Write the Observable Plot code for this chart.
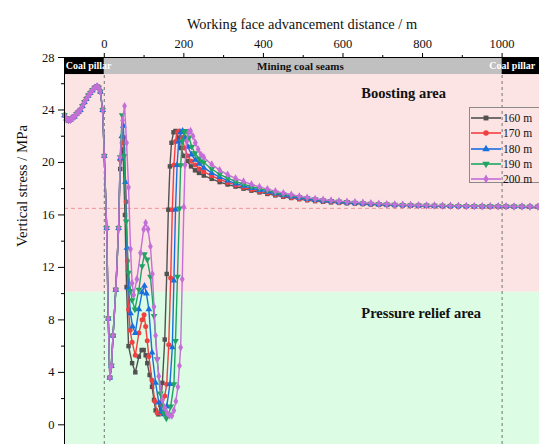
<!DOCTYPE html>
<html>
<head>
<meta charset="utf-8">
<script src="https://cdn.jsdelivr.net/npm/d3@7"></script>
<script src="https://cdn.jsdelivr.net/npm/@observablehq/plot@0.6"></script>
<style>
  html, body { margin: 0; padding: 0; background: #fff; overflow: hidden; }
  #wrap { position: relative; width: 539px; height: 444px; font-family: "Liberation Serif", "Times New Roman", serif; }
  #legend { position: absolute; left: 469px; top: 107px; width: 80px; height: 76px; border: 1px solid #8a8a8a; box-sizing: border-box; }
  .row { position: absolute; left: 0; height: 14px; display: flex; align-items: center; font-size: 11.5px; color: #111; }
  .row svg { display: block; margin-right: 1px; }
</style>
</head>
<body>
<div id="wrap"><div id="chart"></div><div id="legend"></div></div>
<script>
// ---------- data ----------
const seriesNames = ["160 m", "170 m", "180 m", "190 m", "200 m"];
const xTicksMajor = [0, 200, 400, 600, 800, 1000];
const xTicksMinor = [100, 300, 500, 700, 900];
const yTicksMajor = [0, 4, 8, 12, 16, 20, 24, 28];
const yTicksMinor = [2, 6, 10, 14, 18, 22, 26];
const xTitle = "Working face advancement distance / m";
const yTitle = "Vertical stress / MPa";

// zones (MPa)
const boostZone = [10.1, 26.7];
const reliefZone = [-1.5, 10.1];
const stripZone = [26.7, 28];
const pillarStarts = [-100, 1000];
const pillarEnds = [0, 1100];
const pillarLabelX = [-97, 968];
const pillarLabel = "Coal pillar";
const seamLabel = "Mining coal seams";
const seamLabelX = [493];
const refStress = [16.5];
const seamBounds = [0, 1000];
const zoneLabels = ["Boosting area", "Pressure relief area"];
const zoneLabelX = [646, 646];
const zoneLabelY = [25.3, 8.5];

// part shared by all curves (x in m, stress in MPa)
const commonHead = [[-100,23.6],[-95,23.35],[-90,23.2],[-85,23.25],[-80,23.4],[-75,23.5],[-70,23.7],[-65,23.85],[-60,24.0],[-55,24.3],[-50,24.6],[-45,24.85],[-40,25.1],[-35,25.3],[-30,25.5],[-24,25.7],[-18,25.8],[-14,25.7],[-10,25.4],[-4,24.0],[0,20.5],[6,15.0],[10,8.1],[14,3.6],[18,4.5],[22,6.8],[29,10.3],[36,15.0]];

const body160 = [[40,19.5],[47,21.0],[52,16.0],[56,10.5],[61,6.0],[70,4.7],[78,4.0],[87,5.2],[94,5.7],[99,5.7],[104,5.3],[108,4.7],[114,3.8],[120,2.9],[125,1.9],[129,1.1],[136,0.8],[141,1.5],[146,3.2],[152,6.5],[157,11.5],[161,16.4],[165,19.7],[169,21.5],[174,22.3],[179,22.4],[185,21.9],[192,21.1],[200,20.5],[209,20.1],[218,19.7],[228,19.4],[238,19.2]];
const body170 = [[40,20.2],[45,21.5],[50,21.9],[55,17.0],[58,12.5],[61,8.8],[65,7.2],[70,6.3],[78,5.3],[87,7.0],[95,8.0],[100,8.4],[104,7.5],[108,6.4],[112,5.2],[120,3.4],[127,1.8],[133,0.9],[140,0.9],[146,1.5],[152,2.2],[157,3.1],[162,6.1],[167,11.2],[171,16.4],[175,19.8],[179,21.6],[184,22.3],[189,22.4],[195,21.9],[202,21.1],[210,20.5],[219,20.1],[229,19.8],[239,19.5]];
const body180 = [[40,20.3],[44,22.0],[48,22.8],[53,18.5],[57,13.5],[61,10.4],[66,8.5],[71,7.5],[78,7.0],[87,8.8],[95,10.1],[101,10.6],[106,10.0],[112,8.8],[120,5.5],[129,3.2],[137,1.7],[144,1.0],[150,0.8],[157,1.4],[165,3.1],[171,5.9],[175,11.0],[179,16.4],[183,19.8],[187,21.6],[192,22.3],[197,22.4],[203,21.9],[210,21.2],[219,20.6],[229,20.2],[239,19.9]];
const body190 = [[40,20.4],[45,23.6],[50,20.5],[55,15.5],[61,11.6],[66,10.2],[70,9.5],[77,8.8],[87,10.3],[95,12.1],[101,13.0],[108,12.6],[116,11.3],[125,8.3],[133,5.0],[141,2.4],[150,0.9],[156,0.5],[162,0.8],[167,1.4],[175,3.1],[179,6.4],[184,11.3],[189,16.5],[192,19.8],[196,21.6],[201,22.3],[207,22.4],[213,21.9],[220,21.2],[228,20.7],[238,20.3],[245,20.1]];
const body200 = [[40,20.4],[46,23.2],[51,24.3],[56,21.5],[61,18.1],[66,13.4],[70,10.8],[74,9.9],[82,11.1],[91,13.1],[99,14.9],[104,15.4],[110,14.9],[116,13.6],[121,11.5],[125,9.0],[129,6.8],[133,5.0],[137,3.7],[146,1.9],[152,1.3],[158,0.9],[164,0.7],[170,0.7],[175,1.1],[180,1.8],[185,2.9],[189,4.5],[192,5.9],[196,11.1],[200,16.6],[203,19.8],[207,21.6],[212,22.3],[217,22.4],[223,22.0],[229,21.5],[236,21.0],[243,20.6]];

// tail: x = 250, 270, ..., 1090 m
const tailX = [250,270,290,310,330,350,370,390,410,430,450,470,490,510,530,550,570,590,610,630,650,670,690,710,730,750,770,790,810,830,850,870,890,910,930,950,970,990,1010,1030,1050,1070,1090];
const tail160 = [19.0,18.75,18.5,18.32,18.16,18.0,17.85,17.72,17.6,17.49,17.38,17.29,17.2,17.12,17.05,17.0,16.96,16.92,16.89,16.86,16.83,16.8,16.78,16.76,16.74,16.72,16.71,16.7,16.69,16.68,16.67,16.67,16.66,16.66,16.65,16.65,16.64,16.64,16.64,16.63,16.63,16.62,16.62];
const tail170 = [19.3,18.98,18.7,18.48,18.29,18.1,17.94,17.8,17.67,17.55,17.43,17.33,17.24,17.16,17.09,17.04,16.99,16.95,16.92,16.88,16.85,16.82,16.8,16.78,16.75,16.73,16.72,16.71,16.7,16.69,16.68,16.67,16.66,16.66,16.65,16.65,16.64,16.64,16.64,16.63,16.63,16.62,16.62];
const tail180 = [19.6,19.2,18.88,18.62,18.4,18.22,18.05,17.9,17.76,17.63,17.5,17.4,17.3,17.21,17.14,17.08,17.03,16.99,16.95,16.91,16.87,16.84,16.81,16.79,16.77,16.75,16.73,16.72,16.71,16.7,16.69,16.68,16.67,16.67,16.66,16.66,16.65,16.65,16.65,16.64,16.64,16.63,16.63];
const tail190 = [20.0,19.5,19.1,18.8,18.55,18.35,18.16,18.0,17.85,17.71,17.58,17.47,17.37,17.28,17.2,17.12,17.06,17.02,16.98,16.94,16.9,16.86,16.83,16.8,16.78,16.76,16.74,16.73,16.72,16.71,16.7,16.69,16.68,16.67,16.67,16.66,16.66,16.65,16.65,16.64,16.64,16.63,16.63];
const tail200 = [20.4,19.85,19.42,19.08,18.79,18.55,18.33,18.14,17.97,17.81,17.67,17.54,17.42,17.32,17.23,17.16,17.1,17.05,17.01,16.97,16.93,16.89,16.86,16.83,16.8,16.78,16.76,16.74,16.73,16.72,16.71,16.7,16.69,16.68,16.68,16.67,16.67,16.66,16.66,16.65,16.65,16.64,16.64];

// ---------- styling ----------
const colors = ["#515151", "#f14040", "#1a6fdf", "#1fa463", "#c46fd8"];
const symbols = ["square", "circle", "triangle", "triangle", "diamond"];
const rotations = [0, 0, 0, 180, 0];

const bodies = [body160, body170, body180, body190, body200];
const tails = [tail160, tail170, tail180, tail190, tail200];
const rows = [];
seriesNames.forEach((name, k) => {
  const pts = commonHead.concat(bodies[k], tailX.map((x, i) => [x, tails[k][i]]));
  pts.forEach(([x, y]) => rows.push({series: name, k, x, y}));
});

const pillars = pillarStarts.map((s, i) => ({x1: s, x2: pillarEnds[i], lx: pillarLabelX[i]}));
const zones = [
  {y1: boostZone[0], y2: boostZone[1], fill: "#fde4e4"},
  {y1: reliefZone[0], y2: reliefZone[1], fill: "#dcfce3"}
];
const zoneText = zoneLabels.map((t, i) => ({t, x: zoneLabelX[i], y: zoneLabelY[i]}));
const stripMid = (stripZone[0] + stripZone[1]) / 2;

const marks = [
  Plot.rectY(zones, {x1: -100, x2: 1100, y1: "y1", y2: "y2", fill: "fill"}),
  Plot.rectY([seamBounds], {x1: d => d[0], x2: d => d[1], y1: stripZone[0], y2: stripZone[1], fill: "#c0c0c0"}),
  Plot.rectY(pillars, {x1: "x1", x2: "x2", y1: stripZone[0], y2: stripZone[1], fill: "#000"}),
  Plot.text(pillars, {x: "lx", y: stripMid, text: () => pillarLabel, textAnchor: "start", fill: "#fff", fontWeight: "bold", fontSize: 10}),
  Plot.text(seamLabelX, {x: d => d, y: stripMid, text: () => seamLabel, textAnchor: "middle", fill: "#111", fontWeight: "bold", fontSize: 11}),
  Plot.ruleY(refStress, {stroke: "#f08a8a", strokeDasharray: "4,3", strokeWidth: 0.9}),
  Plot.ruleX(seamBounds, {y1: reliefZone[0], y2: stripZone[0], stroke: "#555", strokeDasharray: "3,3", strokeWidth: 0.8}),
  Plot.text(zoneText, {x: "x", y: "y", text: "t", textAnchor: "start", fontWeight: "bold", fontSize: 14.5, fill: "#111"}),
];
seriesNames.forEach((name, k) => {
  const d = rows.filter(r => r.k === k);
  marks.push(Plot.line(d, {x: "x", y: "y", stroke: colors[k], strokeWidth: 1.4}));
  marks.push(Plot.dot(d, {x: "x", y: "y", fill: colors[k], symbol: () => symbols[k], r: 2.5, rotate: rotations[k], stroke: "none"}));
});
marks.push(
  Plot.ruleY([stripZone[1]], {stroke: "#000", strokeWidth: 1}),
  Plot.ruleX([-100], {stroke: "#000", strokeWidth: 1}),
  Plot.axisX(xTicksMajor, {anchor: "top", tickSize: 5, tickPadding: 5, fontSize: 12.5, tickFormat: d3.format("d"), label: null, stroke: "#000"}),
  Plot.axisX(xTicksMinor, {anchor: "top", tickSize: 3, tickFormat: () => "", label: null, stroke: "#000"}),
  Plot.axisY(yTicksMajor, {anchor: "left", tickSize: 6, tickPadding: 4, fontSize: 12.5, label: null, stroke: "#000"}),
  Plot.axisY(yTicksMinor, {anchor: "left", tickSize: 3, tickFormat: () => "", label: null, stroke: "#000"}),
  Plot.text([xTitle], {frameAnchor: "top", dy: -39, fontSize: 14.4, fill: "#111"}),
  Plot.text([yTitle], {frameAnchor: "left", dx: -42, dy: -4, rotate: -90, fontSize: 14.8, fill: "#111"})
);

const chart = Plot.plot({
  width: 539, height: 444,
  marginTop: 57, marginLeft: 64, marginRight: 0, marginBottom: 0,
  style: {fontFamily: "'Liberation Serif', 'Times New Roman', serif", color: "#111", background: "#fff"},
  x: {domain: [-100, 1094]},
  y: {domain: [-1.5, 28]},
  marks
});
document.getElementById("chart").appendChild(chart);

// legend
const legend = document.getElementById("legend");
const d3sym = {square: d3.symbolSquare, circle: d3.symbolCircle, triangle: d3.symbolTriangle, diamond: d3.symbolDiamond};
seriesNames.forEach((name, k) => {
  const row = document.createElement("div");
  row.className = "row";
  row.style.top = (3 + k * 15.3) + "px";
  const sym = d3.symbol(d3sym[symbols[k]], 24)();
  row.innerHTML = `<svg width="32" height="10"><line x1="1" x2="31" y1="5" y2="5" stroke="${colors[k]}" stroke-width="1.6"/><path d="${sym}" transform="translate(16,5) rotate(${rotations[k]})" fill="${colors[k]}"/></svg><span>${name}</span>`;
  legend.appendChild(row);
});
</script>
</body>
</html>
